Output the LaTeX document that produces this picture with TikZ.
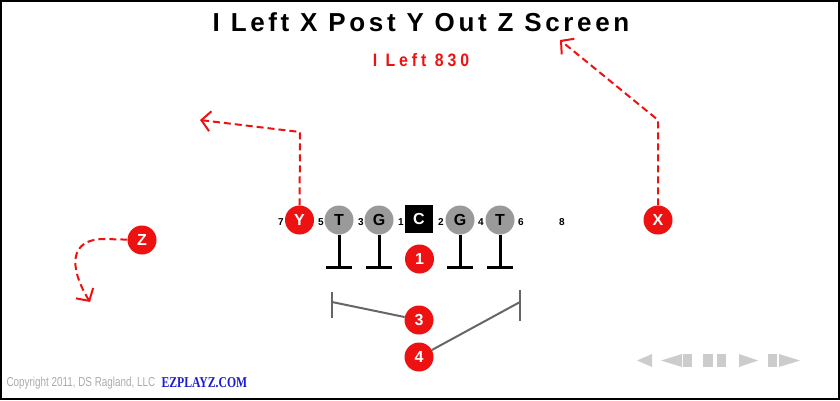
\documentclass[tikz,border=0pt]{standalone}
\usepackage{fontspec}
\setmainfont{Liberation Sans}
\newfontfamily\titlefont{Liberation Sans}[LetterSpace=14]
\newfontfamily\formationfont{Liberation Sans}[LetterSpace=22, FakeStretch=0.88]
\newfontfamily\narrowfont{Liberation Sans}[FakeStretch=0.76]
\newfontfamily\logofont{Liberation Serif}[FakeStretch=0.78]
\usetikzlibrary{arrows.meta}
\definecolor{play red}{HTML}{EE1111}
\definecolor{lineman gray}{HTML}{9A9A9A}
\definecolor{bracket gray}{HTML}{666666}
\definecolor{control gray}{HTML}{CCCCCC}
\definecolor{copy gray}{HTML}{AAAAAA}
\definecolor{logo blue}{HTML}{1A1AD0}
\tikzset{player/.style={circle, fill=play red, text=white, minimum size=29pt, inner sep=0pt, font=\bfseries\fontsize{16}{16}\selectfont}}
\tikzset{lineman/.style={player, fill=lineman gray, text=black}}
\tikzset{centerbox/.style={player, rectangle, fill=black, minimum size=28pt}}
\tikzset{gap/.style={inner sep=0pt, font=\bfseries\fontsize{10}{10}\selectfont}}
\tikzset{route/.style={play red, line width=2pt, dash pattern=on 7pt off 4pt, -{Straight Barb[length=9pt, width=20pt]}}}
\tikzset{block/.style={line width=3pt}}
\tikzset{bracket/.style={bracket gray, line width=2pt}}

\begin{document}
\begin{tikzpicture}[x=1pt, y=-1pt]
                \useasboundingbox (0, 0) rectangle (840, 400);
                \draw[line width=2.5pt] (1, 1) rectangle (839, 399);
                \node[font=\titlefont\bfseries\fontsize{26}{26}\selectfont] (title) at (421, 22) {I Left X Post Y Out Z Screen};
                \node[text=play red, font=\formationfont\bfseries\fontsize{18}{18}\selectfont] (formation) at (421, 60) {I Left 830};
                \node[player] (Y) at (299.5, 220) {Y};
                \node[lineman] (LT) at (339, 220) {T};
                \node[lineman] (LG) at (379, 220) {G};
                \node[centerbox] (C) at (419, 219) {C};
                \node[lineman] (RG) at (460, 220) {G};
                \node[lineman] (RT) at (500, 220) {T};
                \node[player] (X) at (658, 220) {X};
                \node[player] (Z) at (142, 240) {Z};
                \node[player] (one) at (419.5, 259) {1};
                \node[player] (three) at (419, 320) {3};
                \node[player] (four) at (419, 357) {4};
                \node[gap] (hole7) at (281, 222) {7};
                \node[gap] (hole5) at (321, 222) {5};
                \node[gap] (hole3) at (361, 222) {3};
                \node[gap] (hole1) at (401, 222) {1};
                \node[gap] (hole2) at (441, 222) {2};
                \node[gap] (hole4) at (481, 222) {4};
                \node[gap] (hole6) at (521, 222) {6};
                \node[gap] (hole8) at (562, 222) {8};
                \foreach \m in {LT, LG, RG, RT} {
                    \draw[block] (\m.south) -- ++(0, 33) coordinate (\m-foot);
                    \draw[block] ([xshift=-13pt]\m-foot) -- ([xshift=13pt]\m-foot);
                }
                \coordinate (bl) at (332, 302);
                \coordinate (br) at (520, 302);
                \draw[bracket] ([yshift=10pt]bl) -- ([yshift=-16pt]bl);
                \draw[bracket] ([yshift=12pt]br) -- ([yshift=-19pt]br);
                \draw[bracket] (bl) -- (three);
                \draw[bracket] (br) -- (four);
                \coordinate (Ybreak) at (300, 132);
                \coordinate (Yend) at (200, 120);
                \draw[route] (Y) -- (Ybreak) -- (Yend);
                \coordinate (Xbreak) at (658, 120);
                \coordinate (Xend) at (560, 40);
                \draw[route] (X) -- (Xbreak) -- (Xend);
                \coordinate (Zturn) at (104, 239);
                \coordinate (Zend) at (90, 302);
                \draw[route] (Z) -- (Zturn) .. controls (70, 239) and (68, 266) .. (Zend);
                \fill[control gray] (652, 354) -- (637, 360.5) -- (652, 367) -- cycle;
                \fill[control gray] (682, 354) -- (661, 360.5) -- (682, 367) -- cycle;
                \fill[control gray] (683, 354) rectangle (692, 367);
                \fill[control gray] (703, 354) rectangle (713, 367);
                \fill[control gray] (717, 354) rectangle (726, 367);
                \fill[control gray] (739, 354) -- (758, 360.5) -- (739, 367) -- cycle;
                \fill[control gray] (768, 354) rectangle (777, 367);
                \fill[control gray] (779, 354) -- (800, 360.5) -- (779, 367) -- cycle;
                \node[anchor=west, text=copy gray, font=\narrowfont\fontsize{13}{13}\selectfont] (copyright) at (3, 383) {Copyright 2011, DS Ragland, LLC};
                \node[anchor=west, text=logo blue, font=\logofont\bfseries\fontsize{15}{15}\selectfont] (logo) at (158, 383) {EZPLAYZ.COM};
            \end{tikzpicture}
\end{document}
